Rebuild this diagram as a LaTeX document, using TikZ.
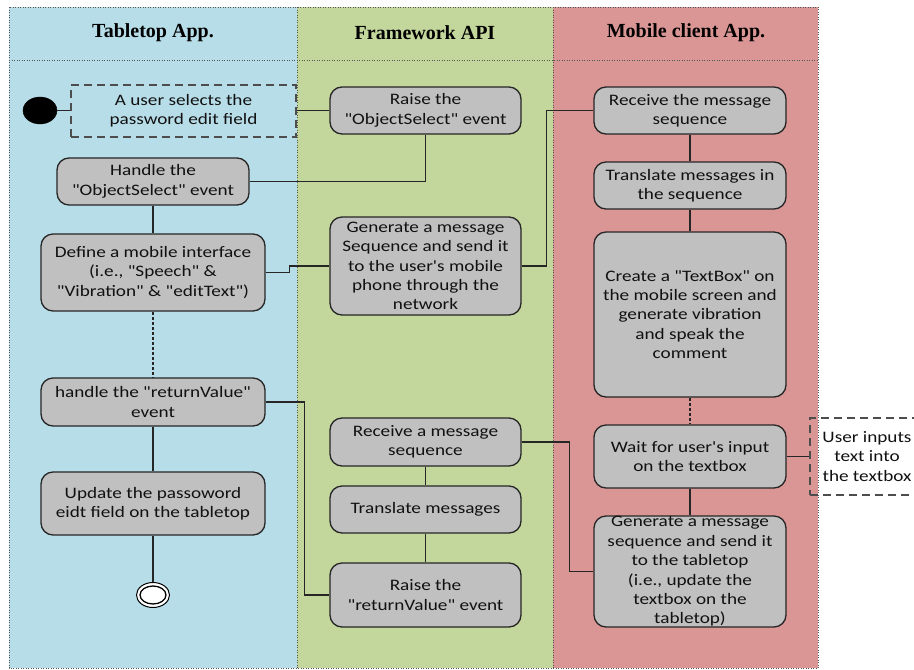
\documentclass[tikz,border=0pt]{standalone}
\usepackage{fontspec}
\setmainfont{Carlito}[FakeStretch=1.2, Ligatures=TeXOff]
\newfontfamily\headfont{Liberation Serif}
\usetikzlibrary{shapes.geometric}
\definecolor{laneA}{HTML}{B7DDE8}
\definecolor{laneB}{HTML}{C3D69B}
\definecolor{laneC}{HTML}{D99694}
\definecolor{boxfill}{HTML}{C0C0C0}
\definecolor{boxline}{HTML}{262626}
\definecolor{textc}{HTML}{111111}
\definecolor{dotc}{HTML}{555555}
\definecolor{dashc}{HTML}{4D4D4D}
\begin{document}
\begin{tikzpicture}[x=1pt,y=-1pt,
  act/.style={draw=boxline, fill=boxfill, rounded corners=12pt, line width=1.3pt,
    inner sep=0pt, align=center, text=textc, font=\fontsize{16}{19.4}\selectfont},
  note/.style={draw=dashc, dash pattern=on 8pt off 5pt, line width=1.3pt,
    inner sep=0pt, align=center, text=textc, font=\fontsize{16}{19.4}\selectfont},
  conn/.style={draw=boxline, line width=1.2pt},
  dconn/.style={draw=boxline, line width=1.2pt, dash pattern=on 3pt off 2pt},
  dotline/.style={draw=dotc, line width=0.9pt, dash pattern=on 1pt off 1.5pt},
  hdr/.style={inner sep=0pt, font=\headfont\bfseries\fontsize{20}{23}\selectfont}
]
\fill[white] (0,0) rectangle (914,670);
\useasboundingbox (0,0) rectangle (914,670);
% lanes
\fill[laneA] (9,7) rectangle (297,668);
\fill[laneB] (297,7) rectangle (553,668);
\fill[laneC] (553,7) rectangle (818,668);
\draw[dotline] (9,7) rectangle (818,668);
\draw[dotline] (297,7) -- (297,668);
\draw[dotline] (553,7) -- (553,668);
\draw[dotline] (9,60) -- (818,60);
\node[hdr] (hA) at (153,33) {Tabletop App.};
\node[hdr] (hB) at (425,33) {Framework API};
\node[hdr] (hC) at (686,33) {Mobile client App.};
% tabletop lane
\node[shape=ellipse, fill=black, draw=black, minimum width=34pt, minimum height=27pt, inner sep=0pt] (start) at (40,110.5) {};
\node[note, minimum width=225pt, minimum height=52pt] (sel) at (183.5,111) {A user selects the\\password edit field};
\node[act, minimum width=192pt, minimum height=47pt] (handleOS) at (153,181.5) {Handle the\\"ObjectSelect" event};
\node[act, minimum width=224pt, minimum height=77pt] (defineMI) at (153,272.5) {Define a mobile interface\\(i.e., "Speech" \&\\"Vibration" \& "editText")};
\node[act, minimum width=224pt, minimum height=48pt] (handleRV) at (153,402) {handle the "returnValue"\\event};
\node[act, minimum width=224pt, minimum height=63pt] (updatePW) at (153,503.5) {Update the passoword\\eidt field on the tabletop};
\node[shape=ellipse, fill=white, draw=black, line width=1pt, minimum width=33pt, minimum height=25pt, inner sep=0pt] (finish) at (153,595) {};
\node[shape=ellipse, fill=white, draw=black, line width=1.3pt, minimum width=26pt, minimum height=18pt, inner sep=0pt] (finishIn) at (153,595) {};
% framework lane
\node[act, minimum width=191pt, minimum height=47pt] (raiseOS) at (425.5,110.5) {Raise the\\"ObjectSelect" event};
\node[act, minimum width=191pt, minimum height=98pt] (genSeq) at (425.5,266) {Generate a message\\Sequence and send it\\to the user's mobile\\phone through the\\network};
\node[act, minimum width=191pt, minimum height=48pt] (recvA) at (425.5,442) {Receive a message\\sequence};
\node[act, minimum width=191pt, minimum height=47pt] (transF) at (425.5,509.5) {Translate messages};
\node[act, minimum width=191pt, minimum height=64pt] (raiseRV) at (425.5,595) {Raise the\\"returnValue" event};
% mobile lane
\node[act, minimum width=192pt, minimum height=47pt] (recvM) at (690,110.5) {Receive the message\\sequence};
\node[act, minimum width=192pt, minimum height=47pt] (transM) at (690,185.5) {Translate messages in\\the sequence};
\node[act, minimum width=192pt, minimum height=165pt] (createTB) at (690,314.5) {Create a "TextBox" on\\the mobile screen and\\generate vibration\\and speak the\\comment};
\node[act, minimum width=192pt, minimum height=63pt] (waitIn) at (690,456.5) {Wait for user's input\\on the textbox};
\node[act, minimum width=192pt, minimum height=111pt] (genTab) at (690,571.5) {Generate a message\\sequence and send it\\to the tabletop\\(i.e., update the\\textbox on the\\tabletop)};
\node[note, minimum width=114pt, minimum height=77pt] (userIn) at (867,456.5) {User inputs\\text into\\the textbox};
% connectors
\draw[conn] (start.east) -- (start.east -| sel.west);
\draw[conn] (raiseOS.west) -- (raiseOS.west -| sel.east);
\draw[conn] (handleOS.east) -| (raiseOS.south);
\draw[conn] (handleOS.south) -- (defineMI.north);
\draw[conn] (defineMI.east) -- ++(24,0) |- (genSeq.west);
\draw[conn] (genSeq.east) -- ++(25,0) |- (recvM.west);
\draw[dconn] (defineMI.south) -- (handleRV.north);
\draw[conn] (handleRV.south) -- (updatePW.north);
\draw[conn] (updatePW.south) -- (finish.north);
\draw[conn] (handleRV.east) -- ++(39,0) |- (raiseRV.west);
\draw[conn] (recvA.east) -- ++(48,0) |- (genTab.west);
\draw[conn] (recvA.south) -- (transF.north);
\draw[conn] (transF.south) -- (raiseRV.north);
\draw[conn] (recvM.south) -- (transM.north);
\draw[conn] (transM.south) -- (createTB.north);
\draw[dconn] (createTB.south) -- (waitIn.north);
\draw[conn] (waitIn.south) -- (genTab.north);
\draw[conn] (waitIn.east) -- (userIn.west);
\end{tikzpicture}
\end{document}
